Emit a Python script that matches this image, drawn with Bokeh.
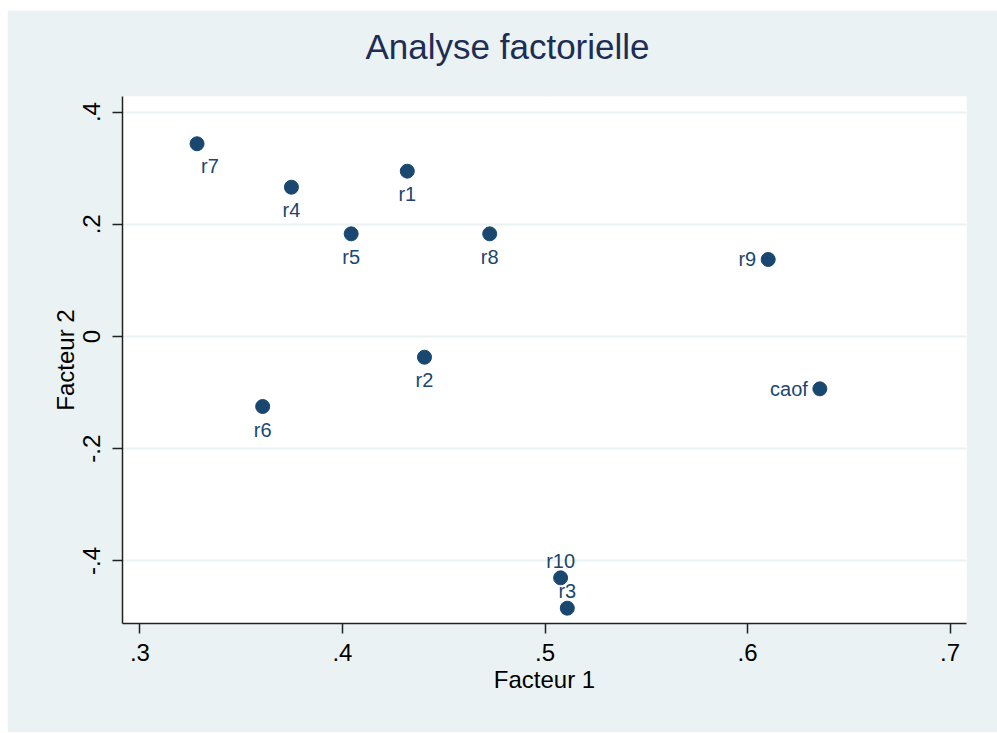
from bokeh.plotting import figure
from bokeh.models import ColumnDataSource, FixedTicker, Range1d, Title, LinearAxis
from bokeh.core.properties import value
from bokeh.embed import file_html
from bokeh.resources import INLINE

# ---- data ----
names = ["r1", "r2", "r3", "r4", "r5", "r6", "r7", "r8", "r9", "r10", "caof"]
facteur1 = [0.4320, 0.4405, 0.5110, 0.3748, 0.4043, 0.3606, 0.3282, 0.4727, 0.6102, 0.5077, 0.6357]
facteur2 = [0.2947, -0.0369, -0.4843, 0.2661, 0.1830, -0.1248, 0.3435, 0.1830, 0.1373, -0.4302, -0.0933]
x_ticks = [0.3, 0.4, 0.5, 0.6, 0.7]
x_tick_labels = [".3", ".4", ".5", ".6", ".7"]
y_ticks = [-0.4, -0.2, 0.0, 0.2, 0.4]
y_tick_labels = ["-.4", "-.2", "0", ".2", ".4"]

# marker-label clock positions (Stata style)
label_pos = {"r1": 6, "r2": 6, "r3": 12, "r4": 6, "r5": 6, "r6": 6,
             "r7": 4, "r8": 6, "r9": 9, "r10": 12, "caof": 9}

pos_style = {
    6: ("center", 0, 23),
    4: ("left", 4, 22),
    9: ("right", -12, 0),
    12: ("center", 0, -17),
}

NAVY = "#1a476f"
BG = "#eaf2f3"
FONT = "Liberation Sans"

aligns, xoffs, yoffs = [], [], []
for n in names:
    a, xo, yo = pos_style[label_pos[n]]
    aligns.append(a); xoffs.append(xo); yoffs.append(yo)

src = ColumnDataSource(dict(x=facteur1, y=facteur2, name=names,
                            align=aligns, xo=xoffs, yo=yoffs))

W, H = 990, 722
ML, MR, MT, MB = 115, 31, 86, 109
p = figure(width=W, height=H, output_backend="svg", toolbar_location=None,
           x_range=Range1d(0.2914, 0.7081), y_range=Range1d(-0.5116, 0.4278),
           min_border_left=ML, min_border_right=MR, min_border_top=MT,
           min_border_bottom=MB)
p.margin = (10, 0, 0, 7)
p.background_fill_color = "white"
p.border_fill_color = BG
p.outline_line_color = None

# style the real axes (before adding the spacer axis)
xa, ya = p.below[0], p.left[0]
for ax in (xa, ya):
    ax.axis_line_color = "#222222"
    ax.axis_line_width = 1.5
    ax.major_tick_line_color = "#222222"
    ax.major_tick_line_width = 1.5
    ax.major_tick_out = 10
    ax.major_tick_in = 0
    ax.minor_tick_line_color = None
    ax.major_label_text_font = FONT
    ax.major_label_text_font_size = "24px"
    ax.major_label_text_color = "black"
    ax.axis_label_text_font = FONT
    ax.axis_label_text_font_size = "24px"
    ax.axis_label_text_font_style = "normal"
    ax.axis_label_text_color = "black"
xa.ticker = FixedTicker(ticks=x_ticks)
ya.ticker = FixedTicker(ticks=y_ticks)
xa.major_label_overrides = dict(zip(x_ticks, x_tick_labels))
ya.major_label_overrides = dict(zip(y_ticks, y_tick_labels))
ya.major_label_orientation = "vertical"
xa.axis_label = "Facteur 1"
ya.axis_label = "Facteur 2"
xa.major_label_standoff = 10
xa.axis_label_standoff = 2
ya.major_label_standoff = 12
ya.axis_label_standoff = 2

# invisible top axis used only as a spacer between the frame and the title
spacer = LinearAxis(ticker=FixedTicker(ticks=[0.5]), axis_line_color=None,
                    major_tick_out=26, major_tick_in=0, major_label_standoff=0,
                    major_tick_line_color=BG, minor_tick_line_color=None,
                    major_label_overrides={0.5: ""},
                    major_label_text_font_size="1px")
p.add_layout(spacer, "above")

p.title = Title(text="Analyse factorielle", align="left", offset=243,
                text_font=FONT, text_font_size="35px", text_font_style="normal",
                text_color="#1e2d53", standoff=10)

p.scatter(x="x", y="y", source=src, size=14, color=NAVY, line_color=NAVY)
p.text(x="x", y="y", text="name", source=src, text_align="align",
       text_baseline="alphabetic", x_offset="xo", y_offset="yo",
       text_font=value(FONT), text_font_size="20px", text_color=NAVY)

p.xgrid.grid_line_color = None
p.ygrid.grid_line_color = BG
p.ygrid.grid_line_width = 2

open("out.html", "w").write(file_html(p, INLINE))
